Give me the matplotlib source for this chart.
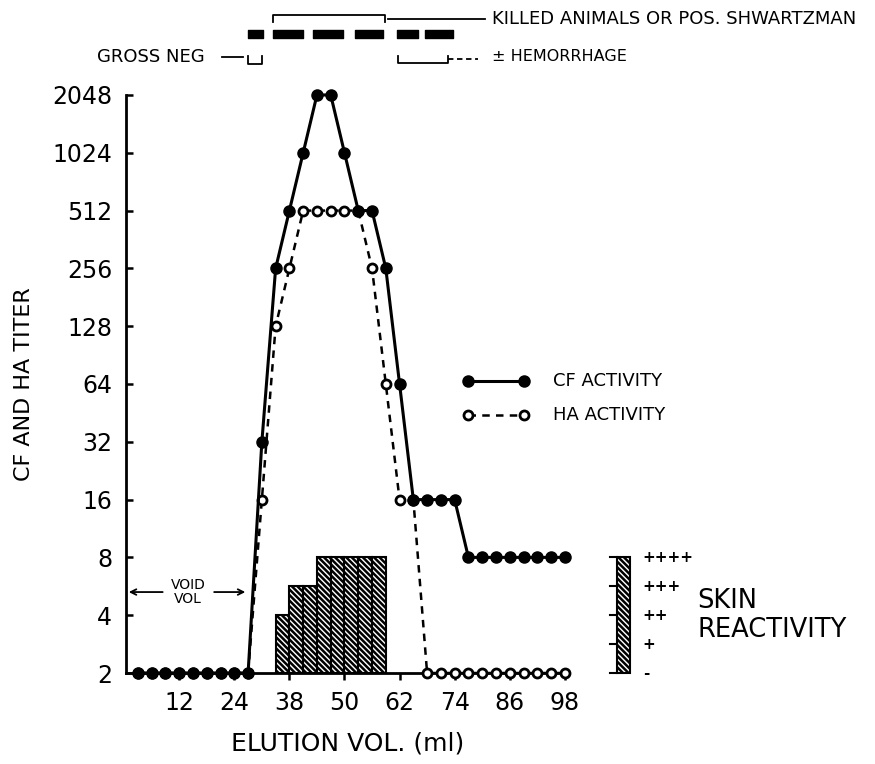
import numpy as np
import matplotlib.pyplot as plt
from matplotlib.transforms import blended_transform_factory

# elution volume of each fraction (ml)
vol = np.arange(3, 99, 3)

cf = [2, 2, 2, 2, 2, 2, 2, 2, 2, 32, 256, 512, 1024, 2048, 2048, 1024,
      512, 512, 256, 64, 16, 16, 16, 16, 8, 8, 8, 8, 8, 8, 8, 8]
ha = [2, 2, 2, 2, 2, 2, 2, 2, 2, 16, 128, 256, 512, 512, 512, 512,
      512, 256, 64, 16, 16, 2, 2, 2, 2, 2, 2, 2, 2, 2, 2, 2]

# skin reactivity (number of +) of fractions starting at skin_vol
skin_vol = [33, 36, 39, 42, 45, 48, 51, 54]
skin_score = [2, 3, 3, 4, 4, 4, 4, 4]
skin_labels = ['-', '+', '++', '+++', '++++']

xtick_pos = [12, 24, 36, 48, 60, 72, 84, 96]
xtick_lab = ['12', '24', '38', '50', '62', '74', '86', '98']
ytick = [2, 4, 8, 16, 32, 64, 128, 256, 512, 1024, 2048]

# pools tested in animals (ml ranges)
pools = [(27.0, 30.2), (32.4, 39.0), (41.1, 47.7), (50.3, 56.4),
         (59.4, 64.0), (65.5, 71.6)]

def score_to_titer(s):
    return 2 ** (1 + s / 2)

plt.rcParams['font.family'] = 'DejaVu Sans'
plt.rcParams['hatch.linewidth'] = 1.8

fig = plt.figure(figsize=(8.75, 7.64), dpi=100)
ax = fig.add_axes([0.144, 0.1191, 0.5057, 0.7566])

ax.set_yscale('log', base=2)
ax.set_xlim(0.4, 96.8)
ax.set_ylim(2, 2048)

# skin reactivity bars
tops = [score_to_titer(s) for s in skin_score]
ax.bar(skin_vol, [t - 2 for t in tops], bottom=2, width=3, align='edge',
       color='white', edgecolor='black', hatch='\\' * 6, linewidth=1.5, zorder=1)

ax.plot(vol, ha, color='black', lw=1.8, ls=(0, (3, 2.5)), marker='o', ms=6.5,
        mfc='white', mec='black', mew=2, clip_on=False, zorder=3)
ax.plot(vol, cf, color='black', lw=2.2, marker='o', ms=8, mfc='black',
        mec='black', clip_on=False, zorder=4)

ax.spines['top'].set_visible(False)
ax.spines['right'].set_visible(False)
ax.spines['left'].set_linewidth(2)
ax.spines['bottom'].set_linewidth(2)

ax.set_yticks(ytick)
ax.set_yticklabels([str(t) for t in ytick])
ax.yaxis.set_minor_locator(plt.NullLocator())
ax.set_xticks(xtick_pos)
ax.set_xticklabels(xtick_lab)
ax.tick_params(axis='y', direction='in', length=5, width=1.8, pad=10, labelsize=17)
ax.tick_params(axis='x', direction='out', length=5, width=1.8, pad=8, labelsize=17)

ax.set_xlabel('ELUTION VOL. (ml)', fontsize=18, labelpad=12)
ax.set_ylabel('CF AND HA TITER', fontsize=16, labelpad=13)

# void volume marker
vy = 5.28
ax.annotate('', xy=(0.4, vy), xytext=(9, vy),
            arrowprops=dict(arrowstyle='->', lw=1.3, color='black'))
ax.annotate('', xy=(27, vy), xytext=(19, vy),
            arrowprops=dict(arrowstyle='->', lw=1.3, color='black'))
ax.text(13.9, vy, 'VOID\nVOL', ha='center', va='center', fontsize=10,
        linespacing=0.95)

# legend
ax.plot([75, 87], [66, 66], color='black', lw=2.2, marker='o', ms=8,
        clip_on=False)
ax.plot([75, 87], [44, 44], color='black', lw=1.8, ls=(0, (3, 2.5)), marker='o',
        ms=6.5, mfc='white', mew=2, clip_on=False)
ax.text(93.5, 66, 'CF ACTIVITY', va='center', fontsize=13)
ax.text(93.5, 44, 'HA ACTIVITY', va='center', fontsize=13)

# skin reactivity key
kx = 107.4
ax.bar([kx], [8 - 2], bottom=2, width=2.8, align='edge', color='white',
       edgecolor='black', hatch='\\' * 6, linewidth=1.5, clip_on=False)
for s, lab in enumerate(skin_labels):
    t = score_to_titer(s)
    ax.plot([kx - 1.6, kx], [t, t], color='black', lw=1.5, clip_on=False)
    ax.text(kx + 5.6, t, lab, va='center', ha='left', fontsize=11,
            fontweight='bold')
ax.text(124.8, score_to_titer(2), 'SKIN\nREACTIVITY', va='center', ha='left',
        fontsize=18.5, linespacing=1.15)

# animal test results above the plot
tr = blended_transform_factory(ax.transData, ax.transAxes)
for a, b in pools:
    ax.add_patch(plt.Rectangle((a, 1.099), b - a, 0.0135, transform=tr,
                               color='black', clip_on=False, joinstyle='round'))

# killed animals bracket
ax.plot([32.4, 32.4, 56.8, 56.8], [1.126, 1.138, 1.138, 1.126], transform=tr,
        color='black', lw=1.3, clip_on=False)
ax.plot([57.5, 78.6], [1.1315, 1.1315], transform=tr, color='black', lw=1.3,
        clip_on=False)
ax.text(80.1, 1.1315, 'KILLED ANIMALS OR POS. SHWARTZMAN', transform=tr,
        va='center', ha='left', fontsize=13)

# gross negative
ax.text(17.6, 1.066, 'GROSS NEG', transform=tr, va='center', ha='right',
        fontsize=13)
ax.plot([21.3, 25.9], [1.066, 1.066], transform=tr, color='black', lw=1.3,
        clip_on=False)
ax.plot([27.0, 27.0, 30.0, 30.0], [1.068, 1.054, 1.054, 1.068], transform=tr,
        color='black', lw=1.3, clip_on=False)

# hemorrhage
ax.plot([59.7, 59.7, 70.6, 70.6], [1.068, 1.055, 1.055, 1.068], transform=tr,
        color='black', lw=1.3, clip_on=False)
ax.plot([70.6, 77.1], [1.062, 1.062], transform=tr, color='black', lw=1.3,
        ls=(0, (3, 2)), clip_on=False)
ax.text(80.1, 1.066, '\u00b1 HEMORRHAGE', transform=tr, va='center', ha='left',
        fontsize=11.5)

fig.savefig('out.png', dpi=100)
